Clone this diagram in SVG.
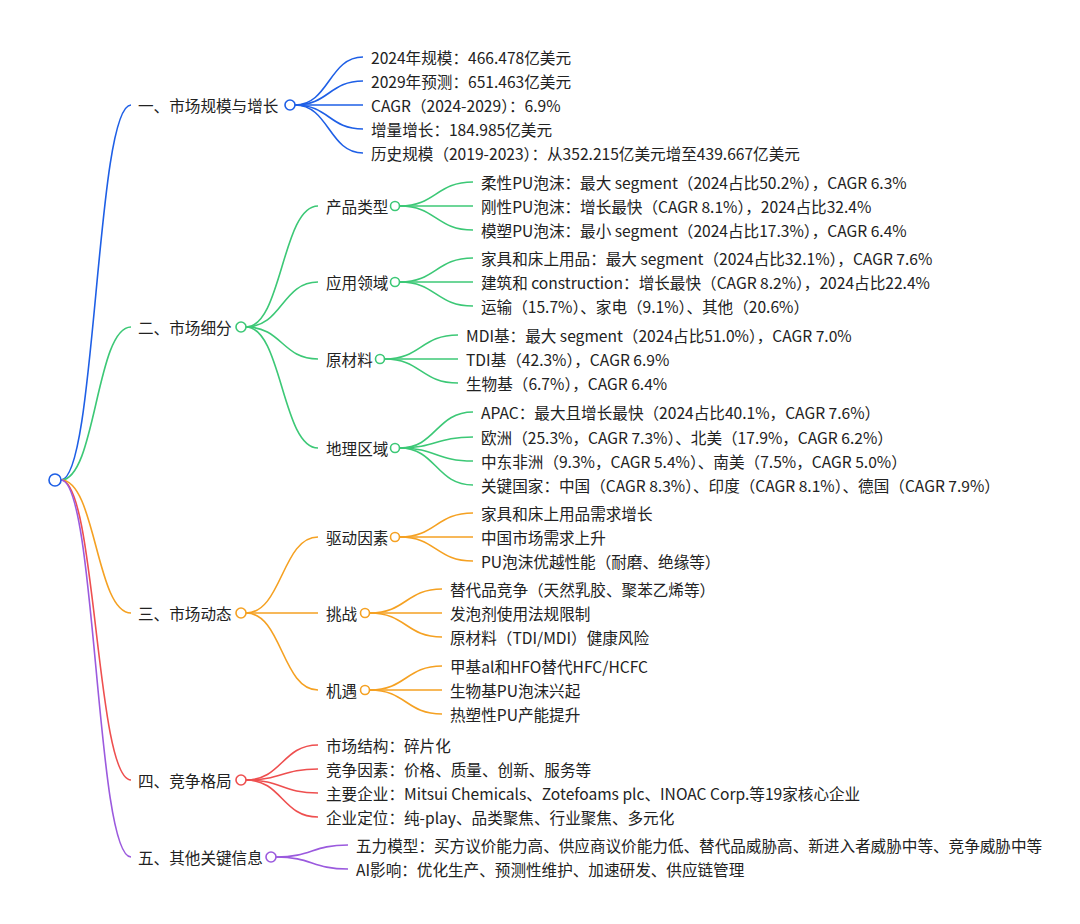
<svg xmlns="http://www.w3.org/2000/svg" width="1080" height="924" viewBox="0 0 1080 924">
<style>
text{font-family:"Noto Sans CJK SC","Noto Sans",sans-serif;font-size:15.6px;fill:#222;dominant-baseline:central}
path{fill:none;stroke-width:1.6}
circle{fill:#fff;stroke-width:1.6}
.b{stroke:#1e5fe6}.g{stroke:#3cc876}.o{stroke:#f5a122}.r{stroke:#ee4f4f}.p{stroke:#9b5ade}
</style>
<rect width="1080" height="924" fill="#fff"/>
<g id="connectors">
<path class="b" d="M61,480 C96,480 96,105 131,105"/>
<path class="g" d="M61,480 C96,480 96,327 131,327"/>
<path class="o" d="M61,480 C96,480 96,613 131,613"/>
<path class="r" d="M61,480 C96,480 96,780 131,780"/>
<path class="p" d="M61,480 C96,480 96,857 131,857"/>
<path class="b" d="M295,105 C329,105 329,57 363,57"/>
<path class="b" d="M295,105 C329,105 329,81 363,81"/>
<path class="b" d="M295,105 C329,105 329,105 363,105"/>
<path class="b" d="M295,105 C329,105 329,129 363,129"/>
<path class="b" d="M295,105 C329,105 329,153 363,153"/>
<path class="g" d="M246,327 C282,327 282,206 318,206"/>
<path class="g" d="M246,327 C282,327 282,282 318,282"/>
<path class="g" d="M246,327 C282,327 282,359 318,359"/>
<path class="g" d="M246,327 C282,327 282,448 318,448"/>
<path class="g" d="M400,206 C436,206 436,182 473,182"/>
<path class="g" d="M400,206 C436,206 436,206 473,206"/>
<path class="g" d="M400,206 C436,206 436,230 473,230"/>
<path class="g" d="M400,282 C436,282 436,258 473,258"/>
<path class="g" d="M400,282 C436,282 436,282 473,282"/>
<path class="g" d="M400,282 C436,282 436,306 473,306"/>
<path class="g" d="M385,359 C421,359 421,335 458,335"/>
<path class="g" d="M385,359 C421,359 421,359 458,359"/>
<path class="g" d="M385,359 C421,359 421,383 458,383"/>
<path class="g" d="M400,448 C436,448 436,412 473,412"/>
<path class="g" d="M400,448 C436,448 436,437 473,437"/>
<path class="g" d="M400,448 C436,448 436,461 473,461"/>
<path class="g" d="M400,448 C436,448 436,485 473,485"/>
<path class="o" d="M246,613 C282,613 282,537 318,537"/>
<path class="o" d="M246,613 C282,613 282,613 318,613"/>
<path class="o" d="M246,613 C282,613 282,690 318,690"/>
<path class="o" d="M400,537 C436,537 436,513 473,513"/>
<path class="o" d="M400,537 C436,537 436,537 473,537"/>
<path class="o" d="M400,537 C436,537 436,561 473,561"/>
<path class="o" d="M370,613 C406,613 406,589 442,589"/>
<path class="o" d="M370,613 C406,613 406,613 442,613"/>
<path class="o" d="M370,613 C406,613 406,637 442,637"/>
<path class="o" d="M370,690 C406,690 406,666 442,666"/>
<path class="o" d="M370,690 C406,690 406,690 442,690"/>
<path class="o" d="M370,690 C406,690 406,714 442,714"/>
<path class="r" d="M246,780 C282,780 282,745 318,745"/>
<path class="r" d="M246,780 C282,780 282,769 318,769"/>
<path class="r" d="M246,780 C282,780 282,793 318,793"/>
<path class="r" d="M246,780 C282,780 282,817 318,817"/>
<path class="p" d="M276,857 C312,857 312,845 348,845"/>
<path class="p" d="M276,857 C312,857 312,869 348,869"/>
</g>
<g id="root"><circle class="b" cx="55" cy="480" r="6"/></g>
<g id="n1"><text x="138" y="105">一、市场规模与增长</text><circle class="b" cx="290" cy="105" r="5"/></g>
<g id="n1-1"><text x="371" y="57">2024年规模：466.478亿美元</text></g>
<g id="n1-2"><text x="371" y="81">2029年预测：651.463亿美元</text></g>
<g id="n1-3"><text x="371" y="105">CAGR（2024-2029）：6.9%</text></g>
<g id="n1-4"><text x="371" y="129">增量增长：184.985亿美元</text></g>
<g id="n1-5"><text x="371" y="153">历史规模（2019-2023）：从352.215亿美元增至439.667亿美元</text></g>
<g id="n2"><text x="138" y="327">二、市场细分</text><circle class="g" cx="241" cy="327" r="5"/></g>
<g id="n2-1"><text x="326" y="206">产品类型</text><circle class="g" cx="395" cy="206" r="4.5"/></g>
<g id="n2-1-1"><text x="481" y="182">柔性PU泡沫：最大 segment（2024占比50.2%），CAGR 6.3%</text></g>
<g id="n2-1-2"><text x="481" y="206">刚性PU泡沫：增长最快（CAGR 8.1%），2024占比32.4%</text></g>
<g id="n2-1-3"><text x="481" y="230">模塑PU泡沫：最小 segment（2024占比17.3%），CAGR 6.4%</text></g>
<g id="n2-2"><text x="326" y="282">应用领域</text><circle class="g" cx="395" cy="282" r="4.5"/></g>
<g id="n2-2-1"><text x="481" y="258">家具和床上用品：最大 segment（2024占比32.1%），CAGR 7.6%</text></g>
<g id="n2-2-2"><text x="481" y="282">建筑和 construction：增长最快（CAGR 8.2%），2024占比22.4%</text></g>
<g id="n2-2-3"><text x="481" y="306">运输（15.7%）、家电（9.1%）、其他（20.6%）</text></g>
<g id="n2-3"><text x="326" y="359">原材料</text><circle class="g" cx="380" cy="359" r="4.5"/></g>
<g id="n2-3-1"><text x="466" y="335">MDI基：最大 segment（2024占比51.0%），CAGR 7.0%</text></g>
<g id="n2-3-2"><text x="466" y="359">TDI基（42.3%），CAGR 6.9%</text></g>
<g id="n2-3-3"><text x="466" y="383">生物基（6.7%），CAGR 6.4%</text></g>
<g id="n2-4"><text x="326" y="448">地理区域</text><circle class="g" cx="395" cy="448" r="4.5"/></g>
<g id="n2-4-1"><text x="481" y="412">APAC：最大且增长最快（2024占比40.1%，CAGR 7.6%）</text></g>
<g id="n2-4-2"><text x="481" y="437">欧洲（25.3%，CAGR 7.3%）、北美（17.9%，CAGR 6.2%）</text></g>
<g id="n2-4-3"><text x="481" y="461">中东非洲（9.3%，CAGR 5.4%）、南美（7.5%，CAGR 5.0%）</text></g>
<g id="n2-4-4"><text x="481" y="485">关键国家：中国（CAGR 8.3%）、印度（CAGR 8.1%）、德国（CAGR 7.9%）</text></g>
<g id="n3"><text x="138" y="613">三、市场动态</text><circle class="o" cx="241" cy="613" r="5"/></g>
<g id="n3-1"><text x="326" y="537">驱动因素</text><circle class="o" cx="395" cy="537" r="4.5"/></g>
<g id="n3-1-1"><text x="481" y="513">家具和床上用品需求增长</text></g>
<g id="n3-1-2"><text x="481" y="537">中国市场需求上升</text></g>
<g id="n3-1-3"><text x="481" y="561">PU泡沫优越性能（耐磨、绝缘等）</text></g>
<g id="n3-2"><text x="326" y="613">挑战</text><circle class="o" cx="365" cy="613" r="4.5"/></g>
<g id="n3-2-1"><text x="450" y="589">替代品竞争（天然乳胶、聚苯乙烯等）</text></g>
<g id="n3-2-2"><text x="450" y="613">发泡剂使用法规限制</text></g>
<g id="n3-2-3"><text x="450" y="637">原材料（TDI/MDI）健康风险</text></g>
<g id="n3-3"><text x="326" y="690">机遇</text><circle class="o" cx="365" cy="690" r="4.5"/></g>
<g id="n3-3-1"><text x="450" y="666">甲基al和HFO替代HFC/HCFC</text></g>
<g id="n3-3-2"><text x="450" y="690">生物基PU泡沫兴起</text></g>
<g id="n3-3-3"><text x="450" y="714">热塑性PU产能提升</text></g>
<g id="n4"><text x="138" y="780">四、竞争格局</text><circle class="r" cx="241" cy="780" r="5"/></g>
<g id="n4-1"><text x="326" y="745">市场结构：碎片化</text></g>
<g id="n4-2"><text x="326" y="769">竞争因素：价格、质量、创新、服务等</text></g>
<g id="n4-3"><text x="326" y="793">主要企业：Mitsui Chemicals、Zotefoams plc、INOAC Corp.等19家核心企业</text></g>
<g id="n4-4"><text x="326" y="817">企业定位：纯-play、品类聚焦、行业聚焦、多元化</text></g>
<g id="n5"><text x="138" y="857">五、其他关键信息</text><circle class="p" cx="271" cy="857" r="5"/></g>
<g id="n5-1"><text x="356" y="845">五力模型：买方议价能力高、供应商议价能力低、替代品威胁高、新进入者威胁中等、竞争威胁中等</text></g>
<g id="n5-2"><text x="356" y="869">AI影响：优化生产、预测性维护、加速研发、供应链管理</text></g>
</svg>
